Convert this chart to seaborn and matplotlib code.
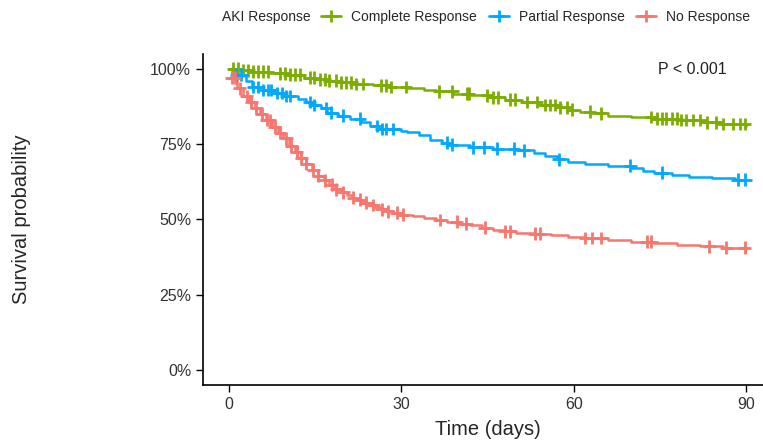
import matplotlib
matplotlib.use('Agg')
import matplotlib.pyplot as plt
from matplotlib.lines import Line2D
import seaborn as sns
import pandas as pd
import numpy as np

groups = ['Complete Response', 'Partial Response', 'No Response']
colors = ['#7CAE00', '#00A9FF', '#F8766D']

# Kaplan-Meier steps (time in days, survival in %)
complete_time = [0, 2, 4, 7, 10, 13, 15, 17, 19, 22, 25, 28, 31, 34, 36, 39, 42, 45, 48, 51,
                 54, 57, 59, 61, 63, 66, 70, 74, 78, 82, 86, 90]
complete_surv = [100, 99.5, 99, 98.5, 98, 97, 96.5, 96, 95.5, 95, 94.5, 94, 93.8, 93, 92.5, 91.8,
                 91.2, 90.5, 89.8, 89, 88, 87.2, 86.5, 85.8, 85.2, 84.5, 84, 83.5, 83, 82.3, 81.7, 81]
partial_time = [0, 1, 3, 4, 6, 8, 10, 12, 13.5, 14.5, 16, 17, 19, 21, 23, 24.5, 26, 30, 31, 33,
                35, 37, 38.5, 42, 46, 50, 53, 55, 57, 59, 62, 66, 70, 72, 74, 77, 80, 84, 88, 90]
partial_surv = [100, 98, 96, 94, 93, 92, 91, 90, 89, 88, 87, 85.5, 84.5, 83.5, 82.5, 81, 80, 79.5,
                79, 78, 76.5, 75.5, 74.8, 74, 73.5, 73, 72, 71, 70, 69.2, 68.5, 67.8, 67, 66.2,
                65.5, 64.8, 64.2, 63.6, 63.2, 63]
none_time = [0, 0.5, 1.5, 2.5, 3.5, 4.5, 5.5, 6.5, 7.5, 8.5, 9.5, 10.5, 11.5, 12.5, 13.5, 14.5,
             15.5, 16.5, 17.5, 18.5, 19.5, 20.5, 21.5, 22.5, 23.5, 24.5, 25.5, 26.5, 27.5, 28.5,
             30, 32, 34, 36, 38, 40, 42, 44, 46, 48, 50, 53, 56, 59, 62, 66, 70, 74, 78, 82, 86, 90]
none_surv = [100, 97, 93.5, 91, 89, 87, 85, 83, 80.8, 78.8, 77, 74.5, 72.5, 70.5, 68.5, 66.5,
             64.5, 63, 61.5, 60, 59, 58, 57.2, 56.5, 55.6, 54.8, 54, 53.3, 52.7, 52.2, 51.6, 51,
             50.4, 49.8, 49.2, 48.6, 48, 47.2, 46.5, 46, 45.6, 45.3, 44.8, 44.3, 43.8, 43.2, 42.6,
             42, 41.5, 41, 40.6, 40.3]

# censoring times
complete_cens = [0.8, 1.6, 2.5, 3.4, 4.2, 5.1, 6.0, 6.8, 8.9, 9.7, 10.6, 11.5, 12.3, 14.1, 14.9,
                 15.8, 16.7, 17.5, 18.7, 19.5, 20.4, 21.3, 22.1, 23.3, 26.4, 27.3, 28.2, 30.8,
                 36.6, 38.9, 41.5, 41.7, 44.9, 46.0, 46.9, 48.9, 49.8, 51.8, 53.6, 55.0, 55.9,
                 56.8, 57.6, 58.8, 59.7, 62.8, 64.8, 73.5, 74.4, 75.3, 76.1, 77.0, 77.9, 78.7,
                 79.6, 80.8, 81.9, 83.1, 84.8, 86.0, 87.7, 88.9, 89.7]
partial_cens = [1.3, 2.2, 4.2, 5.1, 6.0, 6.8, 7.4, 8.3, 9.2, 10.0, 10.6, 14.1, 14.9, 16.9, 17.8,
                19.8, 22.8, 25.7, 26.6, 27.4, 28.6, 37.9, 38.8, 42.5, 44.4, 46.7, 49.6, 51.3,
                57.4, 69.8, 75.3, 88.5, 89.8]
none_cens = [0.5, 1.0, 1.9, 3.1, 3.9, 4.8, 5.7, 6.6, 7.1, 8.0, 8.9, 10.0, 10.9, 11.8, 12.6, 13.5,
             14.7, 15.5, 16.7, 17.9, 18.7, 19.9, 21.6, 22.8, 23.9, 25.1, 26.6, 27.7, 29.2, 30.3,
             36.7, 39.6, 41.3, 44.5, 48.0, 48.9, 53.2, 54.1, 62.0, 63.1, 64.8, 72.7, 73.5, 83.6,
             86.5, 89.7]

steps = [(complete_time, complete_surv, complete_cens),
         (partial_time, partial_surv, partial_cens),
         (none_time, none_surv, none_cens)]

curve_rows = []
cens_rows = []
for g, (t, s, c) in zip(groups, steps):
    for ti, si in zip(t, s):
        curve_rows.append({'time': ti, 'surv': si / 100, 'group': g})
    t_arr = np.array(t)
    for ci in c:
        idx = np.searchsorted(t_arr, ci, side='right') - 1
        cens_rows.append({'time': ci, 'surv': s[idx] / 100, 'group': g})
curves = pd.DataFrame(curve_rows)
cens = pd.DataFrame(cens_rows)

sns.set_style('ticks')
plt.rcParams['font.family'] = ['Liberation Sans', 'DejaVu Sans']

fig = plt.figure(figsize=(7.63, 4.41), dpi=100)
fig.patch.set_facecolor('white')
# axes runs slightly past the right edge, as in the cropped original
ax = fig.add_axes([0.266, 0.127, 0.746, 0.751])
ax.set_facecolor('white')

palette = dict(zip(groups, colors))
sns.lineplot(data=curves, x='time', y='surv', hue='group', palette=palette,
             estimator=None, sort=False, drawstyle='steps-post', linewidth=1.8,
             legend=False, ax=ax)
sns.scatterplot(data=cens, x='time', y='surv', hue='group', palette=palette,
                marker='+', s=85, linewidth=2, legend=False, ax=ax, zorder=3)

ax.set_xlim(-4.5, 94.5)
ax.set_ylim(-0.05, 1.05)
ax.set_xticks([0, 30, 60, 90])
ax.set_yticks([0, 0.25, 0.5, 0.75, 1.0])
ax.set_yticklabels(['0%', '25%', '50%', '75%', '100%'])
for side in ['top', 'right']:
    ax.spines[side].set_visible(False)
for side in ['left', 'bottom']:
    ax.spines[side].set_linewidth(1.2)
    ax.spines[side].set_color('black')
ax.tick_params(axis='both', which='both', direction='out', length=5, width=1,
               colors='black', labelcolor='#333333', labelsize=11.5,
               top=False, right=False)
ax.grid(False)
ax.set_xlabel('Time (days)', fontsize=14.5, labelpad=6)
ax.set_ylabel('Survival probability', fontsize=14.5)
ax.yaxis.set_label_coords(-0.302, 0.5)

ax.text(0.80, 0.952, 'P < 0.001', transform=ax.transAxes, fontsize=11.5,
        color='#222222', va='center')

fig.text(0.291, 0.962, 'AKI Response', fontsize=10, va='center', ha='left')
handles = [Line2D([0], [0], color=c, marker='+', markersize=9, markeredgewidth=2, linewidth=2)
           for c in colors]
fig.legend(handles, groups, loc='center left', bbox_to_anchor=(0.421, 0.962), ncol=3,
           frameon=False, fontsize=10, handlelength=1.45, handletextpad=0.7, columnspacing=0.85,
           borderaxespad=0, borderpad=0)

fig.savefig('out.png', dpi=100, facecolor='white')
